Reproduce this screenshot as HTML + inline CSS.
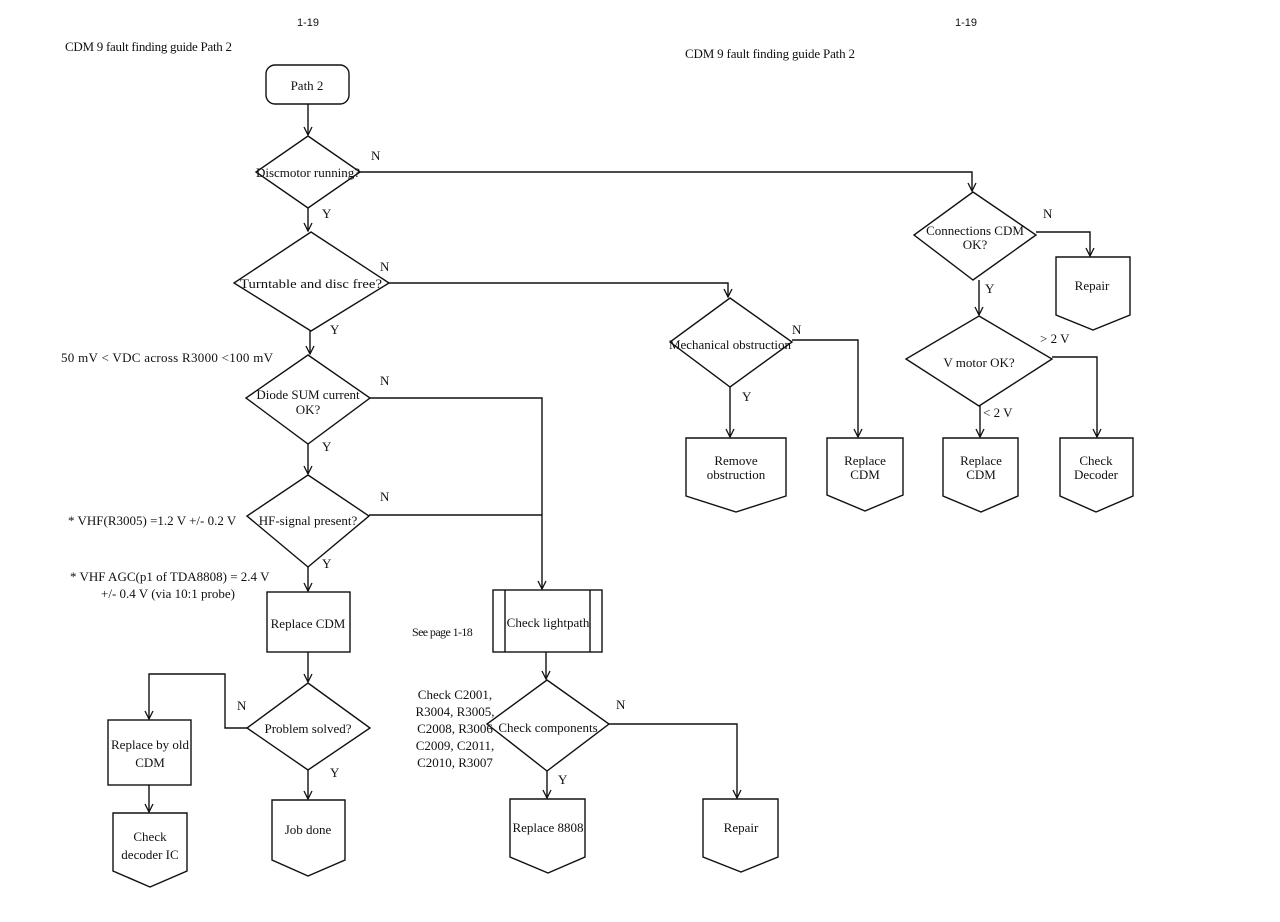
<!DOCTYPE html>
<html><head><meta charset="utf-8"><style>
html,body{margin:0;padding:0;background:#fff;}
svg{display:block;}
text{font-family:"Liberation Serif",serif;font-size:13px;fill:#111;}
.s{font-family:"Liberation Sans",sans-serif;font-size:11px;}
</style></head><body>
<svg width="1280" height="922" viewBox="0 0 1280 922" xmlns="http://www.w3.org/2000/svg">
<defs><marker id="a" markerWidth="10" markerHeight="10" refX="9" refY="5" orient="auto" markerUnits="userSpaceOnUse" viewBox="0 0 10 10"><path d="M1,1 L9,5 L1,9" fill="none" stroke="#111" stroke-width="1.3"/></marker></defs>
<rect width="1280" height="922" fill="#fff"/>
<g fill="none" stroke="#111" stroke-width="1.4">
<rect x="266" y="65" width="83" height="39" rx="9"/>
<polygon points="308,136 360,172 308,208 256,172"/>
<polygon points="311,232 389,283 311,331 234,283"/>
<polygon points="308,355 370,398 308,444 246,398"/>
<polygon points="308,475 369,516 308,567 247,516"/>
<rect x="267" y="592" width="83" height="60"/>
<polygon points="308,683 370,728 308,770 247,728"/>
<rect x="108" y="720" width="83" height="65"/>
<polygon points="113,813 187,813 187,871 150,887 113,871"/>
<polygon points="272,800 345,800 345,860 308,876 272,860"/>
<rect x="493" y="590" width="109" height="62"/><line x1="505" y1="590" x2="505" y2="652"/><line x1="590" y1="590" x2="590" y2="652"/>
<polygon points="547,680 609,724 547,771 487,724"/>
<polygon points="510,799 585,799 585,857 548,873 510,857"/>
<polygon points="703,799 778,799 778,857 741,872 703,857"/>
<polygon points="730,298 792,342 730,387 670,342"/>
<polygon points="686,438 786,438 786,496 736,512 686,496"/>
<polygon points="827,438 903,438 903,495 865,511 827,495"/>
<polygon points="973,192 1036,235 973,280 914,235"/>
<polygon points="1056,257 1130,257 1130,315 1093,330 1056,315"/>
<polygon points="979,316 1052,359 979,406 906,359"/>
<polygon points="943,438 1018,438 1018,496 981,512 943,496"/>
<polygon points="1060,438 1133,438 1133,496 1096,512 1060,496"/>
<path d="M308,104 V135" marker-end="url(#a)"/>
<path d="M308,208 V231" marker-end="url(#a)"/>
<path d="M360,172 H972 V191" marker-end="url(#a)"/>
<path d="M310,331 V354" marker-end="url(#a)"/>
<path d="M389,283 H728 V297" marker-end="url(#a)"/>
<path d="M308,444 V474" marker-end="url(#a)"/>
<path d="M370,398 H542 V589" marker-end="url(#a)"/>
<path d="M369,515 H542"/>
<path d="M308,567 V591" marker-end="url(#a)"/>
<path d="M308,652 V682" marker-end="url(#a)"/>
<path d="M247,728 H225 V674 H149 V719" marker-end="url(#a)"/>
<path d="M149,785 V812" marker-end="url(#a)"/>
<path d="M308,770 V799" marker-end="url(#a)"/>
<path d="M546,652 V679" marker-end="url(#a)"/>
<path d="M547,771 V798" marker-end="url(#a)"/>
<path d="M609,724 H737 V798" marker-end="url(#a)"/>
<path d="M730,387 V437" marker-end="url(#a)"/>
<path d="M792,340 H858 V437" marker-end="url(#a)"/>
<path d="M1036,232 H1090 V256" marker-end="url(#a)"/>
<path d="M979,280 V315" marker-end="url(#a)"/>
<path d="M1052,357 H1097 V437" marker-end="url(#a)"/>
<path d="M980,406 V437" marker-end="url(#a)"/>
</g>
<text class="s" x="308" y="26" text-anchor="middle">1-19</text>
<text class="s" x="966" y="26" text-anchor="middle">1-19</text>
<text x="65" y="51" textLength="167">CDM 9 fault finding guide Path 2</text>
<text x="685" y="58" textLength="170">CDM 9 fault finding guide Path 2</text>
<g text-anchor="middle">
<text x="307" y="90">Path 2</text>
<text x="308" y="177" textLength="104">Discmotor running?</text>
<text x="311" y="288" textLength="142" lengthAdjust="spacingAndGlyphs">Turntable and disc free?</text>
<text x="308" y="399">Diode SUM current</text><text x="308" y="414">OK?</text>
<text x="308" y="525">HF-signal present?</text>
<text x="308" y="628">Replace CDM</text>
<text x="308" y="733">Problem solved?</text>
<text x="150" y="749">Replace by old</text><text x="150" y="767">CDM</text>
<text x="150" y="841">Check</text><text x="150" y="859">decoder IC</text>
<text x="308" y="834">Job done</text>
<text x="548" y="627">Check lightpath</text>
<text x="548" y="732">Check components</text>
<text x="548" y="832">Replace 8808</text>
<text x="741" y="832">Repair</text>
<text x="730" y="349" textLength="122">Mechanical obstruction</text>
<text x="736" y="465">Remove</text><text x="736" y="479">obstruction</text>
<text x="865" y="465">Replace</text><text x="865" y="479">CDM</text>
<text x="975" y="235">Connections CDM</text><text x="975" y="249">OK?</text>
<text x="1092" y="290">Repair</text>
<text x="979" y="367">V motor OK?</text>
<text x="981" y="465">Replace</text><text x="981" y="479">CDM</text>
<text x="1096" y="465">Check</text><text x="1096" y="479">Decoder</text>
<text x="455" y="699">Check C2001,</text>
<text x="455" y="716">R3004, R3005,</text>
<text x="455" y="733">C2008, R3006</text>
<text x="455" y="750">C2009, C2011,</text>
<text x="455" y="767">C2010, R3007</text>
</g>
<text x="68" y="525">* VHF(R3005) =1.2 V +/- 0.2 V</text>
<text x="70" y="581">* VHF AGC(p1 of TDA8808) = 2.4 V</text>
<text x="101" y="598">+/- 0.4 V (via 10:1 probe)</text>
<text x="61" y="362" textLength="212">50 mV &lt; VDC across R3000 &lt;100 mV</text>
<text x="412" y="636" style="font-size:12px;letter-spacing:-0.6px">See page 1-18</text>
<text x="371" y="160">N</text><text x="322" y="218">Y</text>
<text x="380" y="271">N</text><text x="330" y="334">Y</text>
<text x="380" y="385">N</text><text x="322" y="451">Y</text>
<text x="380" y="501">N</text><text x="322" y="568">Y</text>
<text x="237" y="710">N</text><text x="330" y="777">Y</text>
<text x="616" y="709">N</text><text x="558" y="784">Y</text>
<text x="792" y="334">N</text><text x="742" y="401">Y</text>
<text x="1043" y="218">N</text><text x="985" y="293">Y</text>
<text x="1040" y="343">&gt; 2 V</text><text x="983" y="417">&lt; 2 V</text>
</svg>
</body></html>
